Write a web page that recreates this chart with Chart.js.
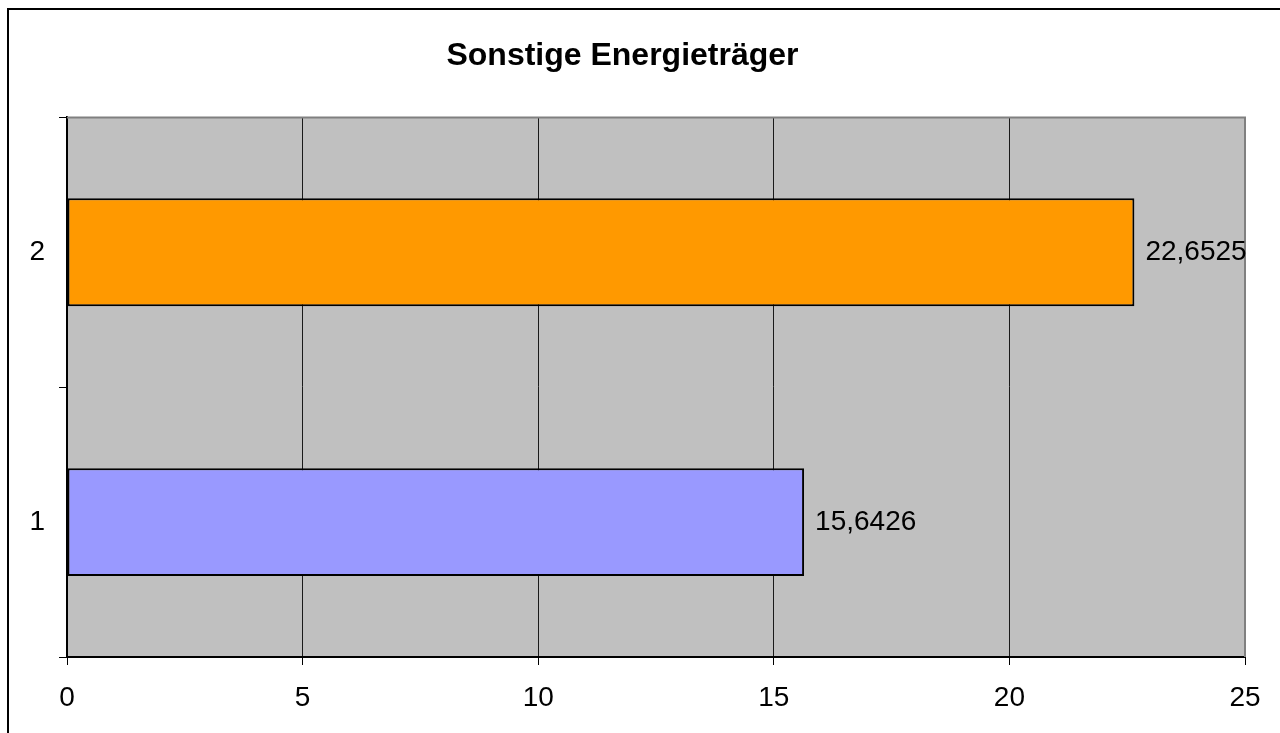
<!DOCTYPE html>
<html>
<head>
<meta charset="utf-8">
<title>Sonstige Energieträger</title>
<script src="https://cdn.jsdelivr.net/npm/chart.js@4/dist/chart.umd.min.js"></script>
<style>
  html, body { margin: 0; padding: 0; background: #fff; }
  #wrap { width: 1280px; height: 733px; position: relative; }
</style>
</head>
<body>
<div id="wrap"><canvas id="chart"></canvas></div>
<script>
// Daten aus dem Diagramm
const categories = ['1', '2'];
const values = [15.6426, 22.6525];
const barColors = ['#9999ff', '#ff9900'];
const xTicks = [0, 5, 10, 15, 20, 25];
const chartTitle = 'Sonstige Energieträger';

const FONT = '"Liberation Sans", Arial, sans-serif';

// Rahmen, Hintergrund der Zeichenfläche und Werte-Beschriftungen
const excelLook = {
  id: 'excelLook',
  beforeDraw(chart) {
    const { ctx, chartArea: a } = chart;
    ctx.save();
    ctx.fillStyle = '#c0c0c0';
    ctx.fillRect(a.left, a.top, a.right - a.left, a.bottom - a.top);
    ctx.restore();
  },
  afterDraw(chart) {
    const { ctx, chartArea: a } = chart;
    ctx.save();
    // Plotbereich oben/rechts grau
    ctx.strokeStyle = '#808080';
    ctx.lineWidth = 2;
    ctx.beginPath();
    ctx.moveTo(a.left, a.top);
    ctx.lineTo(a.right, a.top);
    ctx.lineTo(a.right, a.bottom);
    ctx.stroke();
    // Außenrahmen
    ctx.strokeStyle = '#000';
    ctx.lineWidth = 2;
    ctx.strokeRect(8, 9, 1280, 733);
    // Werte neben den Balken
    ctx.fillStyle = '#000';
    ctx.font = '28px ' + FONT;
    ctx.textBaseline = 'middle';
    ctx.textAlign = 'left';
    const meta = chart.getDatasetMeta(0);
    meta.data.forEach((bar, i) => {
      const txt = String(values[i]).replace('.', ',');
      ctx.fillText(txt, bar.x + 11, bar.y);
    });
    ctx.restore();
  }
};

const ctx = document.getElementById('chart').getContext('2d');
new Chart(ctx, {
  type: 'bar',
  data: {
    labels: categories,
    datasets: [{
      data: values,
      backgroundColor: barColors,
      borderColor: '#000',
      borderWidth: 2,
      borderSkipped: false,
      barPercentage: 0.4,
      categoryPercentage: 1
    }]
  },
  options: {
    indexAxis: 'y',
    responsive: true,
    maintainAspectRatio: false,
    animation: false,
    layout: { padding: { top: 0, right: 35, bottom: 0, left: 0 } },
    plugins: {
      legend: { display: false },
      tooltip: { enabled: false },
      title: {
        display: true,
        text: chartTitle,
        color: '#000',
        font: { family: FONT, size: 32, weight: 'bold' },
        padding: { top: 37, bottom: 42 }
      }
    },
    scales: {
      x: {
        min: 0,
        max: 25,
        afterBuildTicks(scale) {
          scale.ticks = xTicks.map(v => ({ value: v }));
        },
        afterFit(scale) { scale.height = 76; },
        grid: {
          color: '#1a1a1a',
          lineWidth: 1,
          drawTicks: true,
          tickLength: 8,
          tickColor: '#000'
        },
        border: { color: '#000', width: 2 },
        ticks: {
          color: '#000',
          padding: 16,
          font: { family: FONT, size: 28 }
        }
      },
      y: {
        reverse: true,
        afterFit(scale) { scale.width = 67; },
        grid: {
          offset: true,
          drawOnChartArea: false,
          drawTicks: true,
          tickLength: 8,
          tickColor: '#000'
        },
        border: { color: '#000', width: 2 },
        ticks: {
          color: '#000',
          padding: 14,
          font: { family: FONT, size: 28 }
        }
      }
    }
  },
  plugins: [excelLook]
});
</script>
</body>
</html>
